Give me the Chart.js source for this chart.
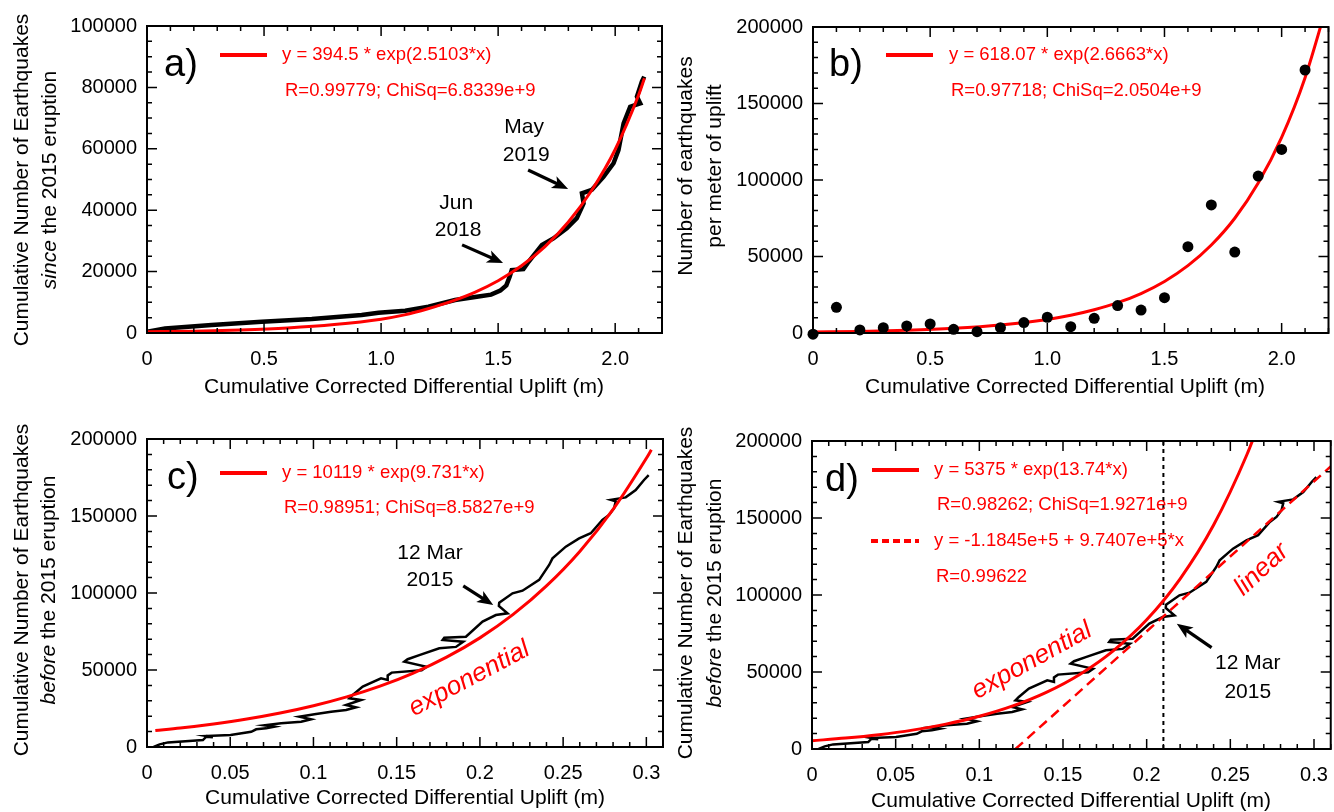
<!DOCTYPE html>
<html>
<head>
<meta charset="utf-8">
<title>Earthquakes vs uplift</title>
<script src="https://cdn.jsdelivr.net/npm/chart.js@4.4.1/dist/chart.umd.min.js"></script>
<style>
  body { margin: 0; background: #fff; }
  canvas { position: absolute; }
</style>
</head>
<body>
<canvas id="pa" width="667" height="406" style="left:0;top:0"></canvas>
<canvas id="pb" width="667" height="406" style="left:667px;top:0"></canvas>
<canvas id="pc" width="667" height="406" style="left:0;top:406px"></canvas>
<canvas id="pd" width="667" height="406" style="left:667px;top:406px"></canvas>
<script>
// ---- data ----
// a) cumulative earthquakes since the 2015 eruption
const aObsX = [0, 0.077, 0.276, 0.49, 0.704, 0.917, 0.989, 1.103, 1.202, 1.316, 1.416, 1.47, 1.509, 1.535, 1.55, 1.558, 1.608, 1.63, 1.687, 1.736, 1.793, 1.836, 1.865, 1.858, 1.90, 1.95, 1.993, 2.014, 2.036, 2.064, 2.107, 2.093, 2.114, 2.124];
const aObsY = [400, 1500, 2600, 3700, 4560, 5860, 6600, 7270, 8570, 10750, 11900, 12500, 13800, 15500, 18500, 20500, 20800, 23200, 28700, 30800, 34100, 37400, 42200, 45500, 46600, 50900, 55300, 59600, 68300, 73700, 74800, 77000, 81900, 83500];
const aFitX = [0, 0.2, 0.4, 0.6, 0.8, 1.0, 1.1, 1.2, 1.3, 1.4, 1.5, 1.6, 1.7, 1.8, 1.9, 2.0, 2.1, 2.125];
const aFitY = [395, 600, 1000, 1650, 2750, 4500, 5900, 7900, 10300, 13250, 17030, 21890, 28150, 36170, 46500, 59770, 77500, 83000];

// b) earthquakes per meter of uplift
const bPtX = [0, 0.1, 0.2, 0.3, 0.4, 0.5, 0.6, 0.7, 0.8, 0.9, 1.0, 1.1, 1.2, 1.3, 1.4, 1.5, 1.6, 1.7, 1.8, 1.9, 2.0, 2.1];
const bPtY = [-800, 16800, 2000, 3500, 4600, 5900, 2400, 850, 3500, 6800, 10300, 4100, 9600, 17900, 15000, 23100, 56400, 83700, 52900, 102600, 120000, 171900];
const bFitX = [0, 0.2, 0.4, 0.6, 0.8, 1.0, 1.1, 1.2, 1.3, 1.4, 1.5, 1.6, 1.7, 1.8, 1.9, 2.0, 2.1, 2.2];
const bFitY = [618, 1050, 1800, 3060, 5220, 8890, 11600, 15200, 19800, 25800, 33700, 44000, 57500, 75000, 98000, 127900, 166900, 218100];

// c) and d) cumulative earthquakes before the 2015 eruption
const cdObsX = [0.004, 0.0076, 0.0126, 0.0336, 0.0356, 0.0396, 0.0356, 0.0502, 0.0626, 0.0656, 0.0716, 0.0766, 0.0706, 0.0806, 0.0926, 0.0986, 0.0916, 0.1006, 0.1106, 0.1196, 0.1256, 0.1196, 0.1286, 0.1216, 0.1236, 0.1296, 0.1406, 0.1446, 0.1446, 0.147, 0.165, 0.168, 0.1546, 0.1566, 0.1636, 0.1756, 0.1856, 0.19, 0.1776, 0.1786, 0.1916, 0.2016, 0.2096, 0.2166, 0.2114, 0.2116, 0.2196, 0.2256, 0.2356, 0.2416, 0.2436, 0.2516, 0.2596, 0.2666, 0.2736, 0.2776, 0.2806, 0.2816, 0.2786, 0.2876, 0.2936, 0.2986, 0.3014];
const cdObsY = [0, 1700, 3000, 4500, 6700, 6300, 7100, 7800, 9900, 11500, 12100, 13200, 14100, 15400, 16400, 18000, 19700, 21200, 22900, 24000, 25800, 27300, 30500, 31600, 33800, 39200, 44600, 43600, 46500, 48300, 49800, 52100, 55400, 57000, 59700, 64100, 65000, 68400, 69500, 71000, 71600, 81400, 85700, 86800, 91600, 93700, 99800, 101500, 108500, 118200, 122500, 130100, 135500, 138800, 147400, 150700, 155000, 159500, 160500, 162100, 166900, 173400, 176600];
const cFitX = [0.005, 0.02, 0.04, 0.06, 0.08, 0.10, 0.12, 0.14, 0.16, 0.18, 0.20, 0.22, 0.24, 0.26, 0.28, 0.30, 0.303];
const cFitY = [10650, 12290, 14940, 18140, 22040, 26780, 32530, 39520, 48010, 58330, 70860, 86080, 104600, 127000, 154300, 187500, 193000];
const dExpX = [0, 0.02, 0.04, 0.06, 0.08, 0.10, 0.12, 0.14, 0.16, 0.18, 0.20, 0.22, 0.24, 0.26, 0.27];
const dExpY = [5375, 7080, 9310, 12260, 16140, 21240, 27960, 36800, 48440, 63760, 83920, 110500, 145400, 191400, 219600];
const dLinX = [0.1216, 0.31];
const dLinY = [0, 183500];
const dMarchX = [0.21, 0.21];
const dMarchY = [0, 200000];

// tick labels
const abXLabels = ['0', '0.5', '1.0', '1.5', '2.0'];
const cdXLabels = ['0', '0.05', '0.1', '0.15', '0.2', '0.25', '0.3'];
const aYLabels = ['0', '20000', '40000', '60000', '80000', '100000'];
const bYLabels = ['0', '50000', '100000', '150000', '200000'];
const cdYLabels = ['0', '50000', '100000', '150000', '200000'];

const FONT = '"Liberation Sans", Arial, sans-serif';
const RED = '#ff0000';
Chart.defaults.font.family = FONT;
Chart.defaults.color = '#000';

const pts = (xs, ys) => xs.map((x, i) => ({ x: x, y: ys[i] }));

function text(ctx, t, x, y, font, color, rot, align) {
  ctx.save();
  ctx.font = font;
  ctx.fillStyle = color;
  ctx.textAlign = align || 'left';
  ctx.textBaseline = 'middle';
  ctx.translate(x, y);
  if (rot) ctx.rotate(rot * Math.PI / 180);
  ctx.fillText(t, 0, 0);
  ctx.restore();
}

function arrow(ctx, x1, y1, x2, y2) {
  const a = Math.atan2(y2 - y1, x2 - x1), L = 16, W = 6.5;
  const c = Math.cos(a), s = Math.sin(a);
  const bx = x2 - L * c, by = y2 - L * s;
  ctx.save();
  ctx.strokeStyle = '#000';
  ctx.fillStyle = '#000';
  ctx.lineWidth = 3.2;
  ctx.beginPath();
  ctx.moveTo(x1, y1);
  ctx.lineTo(bx + 5 * c, by + 5 * s);
  ctx.stroke();
  ctx.beginPath();
  ctx.moveTo(x2, y2);
  ctx.lineTo(bx - W * s, by + W * c);
  ctx.lineTo(bx + 4 * c, by + 4 * s);
  ctx.lineTo(bx + W * s, by - W * c);
  ctx.closePath();
  ctx.fill();
  ctx.restore();
}

function drawFrame(chart, s) {
  const ctx = chart.ctx, xs = chart.scales.x, ys = chart.scales.y, ar = chart.chartArea;
  ctx.save();
  ctx.strokeStyle = '#000';
  ctx.lineWidth = 1.5;
  const nx = Math.round(s.xMax / s.xMinor);
  for (let i = 0; i <= nx; i++) {
    const v = i * s.xMinor;
    const len = Math.abs(v / s.xStep - Math.round(v / s.xStep)) < 1e-6 ? 10 : 5;
    const px = xs.getPixelForValue(v);
    ctx.beginPath();
    ctx.moveTo(px, ar.bottom); ctx.lineTo(px, ar.bottom - len);
    ctx.moveTo(px, ar.top); ctx.lineTo(px, ar.top + len);
    ctx.stroke();
  }
  const ny = Math.round(s.yMax / s.yMinor);
  for (let i = 0; i <= ny; i++) {
    const v = i * s.yMinor;
    const len = Math.abs(v / s.yStep - Math.round(v / s.yStep)) < 1e-6 ? 10 : 5;
    const py = ys.getPixelForValue(v);
    ctx.beginPath();
    ctx.moveTo(ar.left, py); ctx.lineTo(ar.left + len, py);
    ctx.moveTo(ar.right, py); ctx.lineTo(ar.right - len, py);
    ctx.stroke();
  }
  ctx.lineWidth = 2;
  ctx.strokeRect(ar.left, ar.top, ar.right - ar.left, ar.bottom - ar.top);
  ctx.restore();
}

function drawDeco(chart, s) {
  const ctx = chart.ctx, xs = chart.scales.x, ys = chart.scales.y;
  const X = v => xs.getPixelForValue(v), Y = v => ys.getPixelForValue(v);
  drawFrame(chart, s);

  // panel letter
  ctx.save();
  ctx.font = '38px ' + FONT;
  ctx.fillStyle = '#000';
  ctx.textBaseline = 'alphabetic';
  ctx.fillText(s.letter[0], s.letter[1], s.letter[2]);
  ctx.restore();

  // legend
  s.legend.forEach(e => {
    if (e.line) {
      ctx.save();
      ctx.strokeStyle = RED;
      ctx.lineWidth = 4;
      if (e.line === 'dash') ctx.setLineDash([7, 4]);
      ctx.beginPath();
      ctx.moveTo(e.x1, e.y); ctx.lineTo(e.x2, e.y);
      ctx.stroke();
      ctx.restore();
    }
    text(ctx, e.t, e.tx, e.y, '18.5px ' + FONT, RED);
  });

  // y title, two lines, parts may be italic
  s.yTitle.lines.forEach((parts, li) => {
    ctx.save();
    ctx.translate(s.yTitle.xs[li], s.yTitle.cy);
    ctx.rotate(-Math.PI / 2);
    ctx.textBaseline = 'middle';
    ctx.textAlign = 'left';
    ctx.fillStyle = '#000';
    const f = p => (p[1] ? 'italic ' : '') + '21px ' + FONT;
    let w = 0;
    parts.forEach(p => { ctx.font = f(p); w += ctx.measureText(p[0]).width; });
    let x = -w / 2;
    parts.forEach(p => { ctx.font = f(p); ctx.fillText(p[0], x, 0); x += ctx.measureText(p[0]).width; });
    ctx.restore();
  });

  // x title
  text(ctx, 'Cumulative Corrected Differential Uplift (m)', s.xTitle[0], s.xTitle[1], '21px ' + FONT, '#000', 0, 'center');

  // annotations in data units
  (s.notes || []).forEach(n => text(ctx, n.t, X(n.x), Y(n.y), '21px ' + FONT, '#000', 0, 'center'));
  (s.redNotes || []).forEach(n => text(ctx, n.t, X(n.x), Y(n.y), 'italic 26px ' + FONT, RED, n.rot, 'center'));
  (s.arrows || []).forEach(a => arrow(ctx, X(a[0]), Y(a[1]), X(a[2]), Y(a[3])));
}

function makePanel(id, s) {
  return new Chart(document.getElementById(id), {
    type: 'line',
    data: { datasets: s.datasets },
    options: {
      responsive: false,
      animation: false,
      events: [],
      layout: { padding: { top: s.pad[0], right: s.pad[1], left: 0, bottom: 0 } },
      plugins: { legend: { display: false }, tooltip: { enabled: false } },
      scales: {
        x: {
          type: 'linear', min: 0, max: s.xMax,
          afterFit: sc => { sc.height = s.xAxisH; },
          grid: { display: false }, border: { display: false },
          ticks: {
            stepSize: s.xStep, includeBounds: false, autoSkip: false, maxRotation: 0,
            padding: 6, font: { size: 20 }, color: '#000',
            callback: (v, i) => s.xLabels[i]
          }
        },
        y: {
          type: 'linear', min: 0, max: s.yMax,
          afterFit: sc => { sc.width = s.yAxisW; },
          grid: { display: false }, border: { display: false },
          ticks: {
            stepSize: s.yStep, includeBounds: false, autoSkip: false,
            padding: 2, font: { size: 20 }, color: '#000',
            callback: (v, i) => s.yLabels[i]
          }
        }
      }
    },
    plugins: [{ id: 'deco', afterDraw: c => drawDeco(c, s) }]
  });
}

const fitLine = (data, extra) => Object.assign({
  data: data, borderColor: RED, borderWidth: 3, pointRadius: 0, fill: false,
  cubicInterpolationMode: 'monotone'
}, extra || {});
const obsLine = (data, w) => ({
  data: data, borderColor: '#000', borderWidth: w, pointRadius: 0, fill: false, tension: 0
});

makePanel('pa', {
  xMax: 2.2, xStep: 0.5, xMinor: 0.1, yMax: 100000, yStep: 20000, yMinor: 5000,
  xLabels: abXLabels, yLabels: aYLabels,
  pad: [26, 5], yAxisW: 147, xAxisH: 73,
  datasets: [fitLine(pts(aFitX, aFitY)), obsLine(pts(aObsX, aObsY), 4.5)],
  letter: ['a)', 164, 76],
  legend: [
    { line: 'solid', x1: 220, x2: 267, y: 55, tx: 282, t: 'y = 394.5 * exp(2.5103*x)' },
    { tx: 285, y: 91, t: 'R=0.99779; ChiSq=6.8339e+9' }
  ],
  yTitle: { xs: [22, 50], cy: 180, lines: [[['Cumulative Number of Earthquakes', false]], [['since', true], [' the 2015 eruption', false]]] },
  xTitle: [404, 387],
  notes: [
    { t: 'May', x: 1.611, y: 67100 }, { t: '2019', x: 1.62, y: 58000 },
    { t: 'Jun', x: 1.321, y: 42300 }, { t: '2018', x: 1.329, y: 33600 }
  ],
  arrows: [[1.628, 53100, 1.799, 46900], [1.346, 28700, 1.521, 22800]]
});

makePanel('pb', {
  xMax: 2.2, xStep: 0.5, xMinor: 0.1, yMax: 200000, yStep: 50000, yMinor: 10000,
  xLabels: abXLabels, yLabels: bYLabels,
  pad: [27, 4], yAxisW: 146, xAxisH: 73,
  datasets: [
    { data: pts(bPtX, bPtY), showLine: false, pointRadius: 5.5, pointBackgroundColor: '#000', pointBorderColor: '#000', pointBorderWidth: 0, clip: false },
    fitLine(pts(bFitX, bFitY))
  ],
  letter: ['b)', 162, 76],
  legend: [
    { line: 'solid', x1: 219, x2: 266, y: 55, tx: 282, t: 'y = 618.07 * exp(2.6663*x)' },
    { tx: 284, y: 91, t: 'R=0.97718; ChiSq=2.0504e+9' }
  ],
  yTitle: { xs: [19, 48], cy: 166, lines: [[['Number of earthquakes', false]], [['per meter of uplift', false]]] },
  xTitle: [398, 387]
});

makePanel('pc', {
  xMax: 0.31, xStep: 0.05, xMinor: 0.01, yMax: 200000, yStep: 50000, yMinor: 10000,
  xLabels: cdXLabels, yLabels: cdYLabels,
  pad: [33, 4], yAxisW: 147, xAxisH: 65,
  datasets: [fitLine(pts(cFitX, cFitY)), obsLine(pts(cdObsX, cdObsY), 2.5)],
  letter: ['c)', 167, 83],
  legend: [
    { line: 'solid', x1: 220, x2: 267, y: 67, tx: 282, t: 'y = 10119 * exp(9.731*x)' },
    { tx: 284, y: 102, t: 'R=0.98951; ChiSq=8.5827e+9' }
  ],
  yTitle: { xs: [22, 49], cy: 184, lines: [[['Cumulative Number of Earthquakes', false]], [['before', true], [' the 2015 eruption', false]]] },
  xTitle: [405, 392],
  notes: [{ t: '12 Mar', x: 0.170, y: 126000 }, { t: '2015', x: 0.170, y: 108500 }],
  redNotes: [{ t: 'exponential', x: 0.1936, y: 44200, rot: -28 }],
  arrows: [[0.190, 104600, 0.208, 92200]]
});

makePanel('pd', {
  xMax: 0.31, xStep: 0.05, xMinor: 0.01, yMax: 200000, yStep: 50000, yMinor: 10000,
  xLabels: cdXLabels, yLabels: cdYLabels,
  pad: [35, 3], yAxisW: 145, xAxisH: 63,
  datasets: [
    fitLine(pts(dExpX, dExpY)),
    fitLine(pts(dLinX, dLinY), { borderWidth: 2.5, borderDash: [10, 6], cubicInterpolationMode: 'default', tension: 0 }),
    obsLine(pts(cdObsX, cdObsY), 2.5),
    { data: pts(dMarchX, dMarchY), borderColor: '#000', borderWidth: 2, borderDash: [4, 4], pointRadius: 0, tension: 0 }
  ],
  letter: ['d)', 158, 85],
  legend: [
    { line: 'solid', x1: 205, x2: 252, y: 64, tx: 267, t: 'y = 5375 * exp(13.74*x)' },
    { tx: 270, y: 99, t: 'R=0.98262; ChiSq=1.9271e+9' },
    { line: 'dash', x1: 204, x2: 252, y: 135, tx: 267, t: 'y = -1.1845e+5 + 9.7407e+5*x' },
    { tx: 269, y: 171, t: 'R=0.99622' }
  ],
  yTitle: { xs: [19, 48], cy: 187, lines: [[['Cumulative Number of Earthquakes', false]], [['before', true], [' the 2015 eruption', false]]] },
  xTitle: [404, 395],
  notes: [{ t: '12 Mar', x: 0.2604, y: 55400 }, { t: '2015', x: 0.2604, y: 37200 }],
  redNotes: [{ t: 'exponential', x: 0.1314, y: 57300, rot: -29 }, { t: 'linear', x: 0.2687, y: 116500, rot: -43 }],
  arrows: [[0.2388, 65800, 0.218, 81400]]
});
</script>
</body>
</html>
